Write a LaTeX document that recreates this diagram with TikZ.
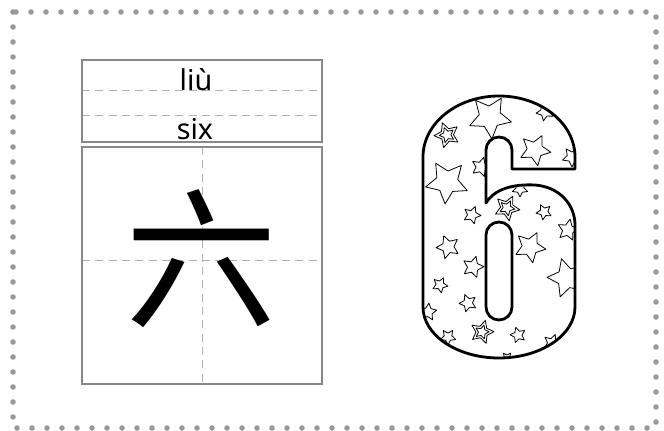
\documentclass[tikz,border=0pt]{standalone}
\usepackage{fontspec}
\usepackage{tikz}
\newfontfamily\latinfont{Noto Sans}
\newfontfamily\cjkfont{Noto Sans CJK SC}
\definecolor{dots}{HTML}{999999}
\definecolor{frame}{HTML}{888888}
\definecolor{guide}{HTML}{B0B0B0}
\tikzset{
  border/.style={draw=dots, line width=4.2pt, line cap=round, dash pattern=on 0pt off 11.25pt},
  box/.style={draw=frame, line width=1.6pt},
  guideline/.style={draw=guide, line width=0.75pt, dash pattern=on 6pt off 4pt},
  word/.style={font=\latinfont\fontsize{21.5}{21.5}\selectfont, inner sep=0pt, anchor=base},
  hanzi/.style={font=\cjkfont\fontsize{114}{114}\selectfont, inner sep=0pt},
  outline/.style={draw=black, line width=2.1pt, line join=round},
  starline/.style={draw=black, line width=0.6pt, line join=round},
  starpic/.pic={\path[starline] (90:1) \foreach \k in {0,...,4} {-- ({126+72*\k}:0.5) -- ({162+72*\k}:1)} -- cycle;},
}
\def\sixouter{(423,157) .. controls (423,123.3) and (457,96) .. (499,96)
  .. controls (541,96) and (575,123.3) .. (575,157) -- (575,169) -- (512,169) -- (512,150)
  .. controls (512,142.8) and (506.2,137) .. (499,137) .. controls (491.8,137) and (486,142.8) .. (486,150)
  -- (486,203) .. controls (495,188) and (515,184) .. (535,185) .. controls (560,187) and (575,205) .. (575,225)
  -- (575,307) .. controls (575,335) and (541,358) .. (499,358) .. controls (457,358) and (423,335) .. (423,307) -- cycle}
\def\sixinner{(486,235) .. controls (486,227.8) and (491.8,222) .. (499,222) .. controls (506.2,222) and (512,227.8) .. (512,235)
  -- (512,307) .. controls (512,314.2) and (506.2,320) .. (499,320) .. controls (491.8,320) and (486,314.2) .. (486,307) -- cycle}
\begin{document}
\begin{tikzpicture}[x=0.75pt, y=-0.75pt]
  \useasboundingbox (0,0) rectangle (664,431);
  \draw[border] (13,12) rectangle (656,428);

  % card with pinyin, word and writing grid
  \draw[guideline] (82,91) -- (322,91);
  \draw[guideline] (82,116) -- (322,116);
  \draw[guideline] (202,147) -- (202,384);
  \draw[guideline] (82,260) -- (322,260);
  \draw[box] (82,60) rectangle (322,142);
  \draw[box] (82,147) rectangle (322,384);
  \node[word] (pinyin) at (196,91) {liù};
  \node[word] (english) at (195,140) {six};
  \node[hanzi] (hanzi) at (201,259) {六};

  % starry six
  \begin{scope}[even odd rule]
    \clip \sixouter \sixinner;
    \foreach \sx/\sy/\sr/\sa in {490/117/22/5, 545/112/9/-10, 535/150/16/10, 572/157/10/0,
        481/167/10/20, 447/182/22/-5, 520/189/8/0, 472/215/9/15, 544/212/8/-10, 568/230/11/25,
        448/247/12/-15, 530/247/16/10, 473/267/11/20, 567/278/20/-20, 440/285/8/10,
        468/303/9/-15, 428/312/9/30, 448/337/8/0, 518/335/8/-20, 552/343/9/15, 507/358/6/0}
      \pic[scale=\sr, rotate=\sa] at (\sx,\sy) {starpic};
    \foreach \sx/\sy/\sr/\sa in {447/135/13/-15, 507/208/13/10, 482/332/12/20} {
      \pic[scale=\sr, rotate=\sa] at (\sx,\sy) {starpic};
      \pic[scale=0.6*\sr, rotate=\sa] at (\sx,\sy) {starpic};
    }
  \end{scope}
  \draw[outline] \sixouter;
  \draw[outline] \sixinner;
\end{tikzpicture}
\end{document}
